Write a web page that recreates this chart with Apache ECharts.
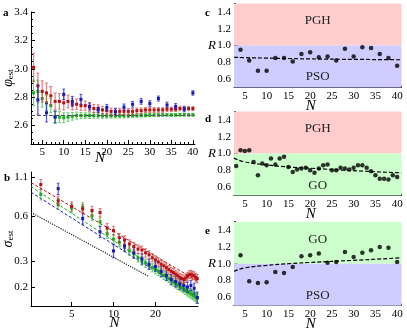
<!DOCTYPE html>
<html>
<head>
<meta charset="utf-8">
<script src="https://cdn.jsdelivr.net/npm/echarts@6/dist/echarts.min.js"></script>
<style>
html,body{margin:0;padding:0;background:#fff;}
#main{width:407px;height:333px;}
</style>
</head>
<body>
<div id="main"></div>
<script>
// ---- panel a : phase estimate vs N ----
var nAll = [3,4,5,6,7,8,9,10,11,12,13,14,15,16,17,18,19,20,21,22,23,24,25,26,27,28,29,30,31,32,33,34,35,36,37,38,39,40];
var nEven = [4,6,8,10,12,14,16,18,20,22,24,26,28,30,32,34,36,38,40];
var aRed = [3.01,2.88,2.84,2.83,2.81,2.77,2.77,2.76,2.77,2.75,2.75,2.74,2.74,2.73,2.72,2.72,2.71,2.705,2.70,2.70,2.70,2.70,2.70,2.70,2.705,2.705,2.71,2.71,2.71,2.71,2.71,2.715,2.715,2.715,2.72,2.72,2.72,2.72];
var aRedErr = [0.10,0.09,0.075,0.07,0.065,0.06,0.055,0.05,0.045,0.04,0.038,0.035,0.033,0.03,0.028,0.027,0.026,0.025,0.024,0.023,0.022,0.021,0.02,0.02,0.019,0.019,0.018,0.018,0.018,0.017,0.017,0.017,0.016,0.016,0.016,0.016,0.015,0.015];
var aGreen = [2.83,2.84,2.79,2.76,2.74,2.66,2.66,2.655,2.66,2.665,2.67,2.67,2.67,2.67,2.67,2.67,2.668,2.668,2.668,2.668,2.668,2.668,2.668,2.67,2.67,2.672,2.672,2.674,2.674,2.674,2.675,2.675,2.675,2.675,2.676,2.676,2.676,2.676];
var aGreenErr = [0.09,0.08,0.06,0.055,0.05,0.045,0.04,0.035,0.03,0.027,0.025,0.022,0.02,0.02,0.018,0.018,0.017,0.016,0.015,0.015,0.014,0.014,0.013,0.013,0.012,0.012,0.012,0.011,0.011,0.011,0.01,0.01,0.01,0.01,0.01,0.01,0.01,0.01];
var aBlue = [2.78,2.69,2.66,2.82,2.77,2.785,2.735,2.71,2.727,2.697,2.73,2.75,2.77,2.755,2.79,2.745,2.735,2.715,2.83];
var aBlueErr = [0.1,0.065,0.04,0.037,0.035,0.035,0.025,0.02,0.022,0.022,0.022,0.02,0.02,0.02,0.018,0.02,0.02,0.018,0.016];
var aRef = 2.667;
var aXTicks = [5,10,15,20,25,30,35,40];
var aYTicks = [2.6,2.8,3.0,3.2,3.4];

// ---- panel b : sigma vs N (log-log) ----
var bRed = [0.98,0.76,0.70,0.67,0.655,0.635,0.50,0.48,0.43,0.415,0.39,0.375,0.36,0.355,0.34,0.33,0.315,0.305,0.295,0.285,0.278,0.27,0.262,0.255,0.25,0.244,0.238,0.232,0.228,0.225,0.23,0.236,0.242,0.244,0.24,0.238,0.232,0.228];
var bRedErr = [0.08,0.06,0.05,0.05,0.045,0.04,0.035,0.033,0.03,0.028,0.026,0.025,0.024,0.023,0.022,0.021,0.02,0.02,0.019,0.018,0.018,0.017,0.017,0.016,0.016,0.016,0.015,0.015,0.015,0.015,0.015,0.015,0.015,0.015,0.015,0.015,0.015,0.015];
var bGreen = [0.84,0.72,0.68,0.69,0.60,0.55,0.455,0.42,0.40,0.37,0.35,0.335,0.315,0.30,0.29,0.28,0.27,0.262,0.255,0.248,0.24,0.235,0.228,0.222,0.216,0.21,0.206,0.202,0.198,0.194,0.19,0.186,0.183,0.18,0.177,0.174,0.171,0.168];
var bGreenErr = [0.07,0.055,0.05,0.05,0.04,0.035,0.03,0.03,0.028,0.025,0.024,0.022,0.021,0.02,0.019,0.018,0.017,0.017,0.016,0.016,0.015,0.015,0.014,0.014,0.014,0.013,0.013,0.013,0.013,0.012,0.012,0.012,0.012,0.012,0.012,0.012,0.012,0.012];
var bBlue = [0.92,0.58,0.47,0.35,0.38,0.34,0.31,0.285,0.275,0.255,0.24,0.225,0.218,0.21,0.205,0.2,0.205,0.196,0.17];
var bBlueErr = [0.08,0.05,0.04,0.035,0.03,0.028,0.025,0.022,0.02,0.02,0.019,0.018,0.018,0.017,0.017,0.016,0.016,0.016,0.015];
var bFitN = [2.55,40];
var bRedFit = [1.01,0.22];
var bGreenFit = [0.95,0.175];
var bBlueFit = [0.87,0.17];
var bDotN = [2.55,18];
var bDot = [0.636,0.235];
var bXTicks = [5,10,20];
var bYTicks = [0.2,0.3,0.6,1.1];

// ---- panels c, d, e : ratio R ----
var cR = [0.95,0.82,0.70,0.70,0.85,0.85,0.81,0.90,0.92,0.86,0.87,0.82,0.96,0.87,0.98,0.97,0.90,0.85,0.76];
var dR = [0.85,1.04,1.03,1.04,0.90,0.74,0.88,0.86,0.94,0.87,0.94,0.96,0.84,0.78,0.81,0.82,0.83,0.80,0.77,0.82,0.86,0.87,0.80,0.80,0.83,0.82,0.81,0.83,0.86,0.86,0.83,0.79,0.74,0.70,0.70,0.69,0.74,0.72];
var eR = [1.10,0.79,0.77,0.78,0.90,0.89,0.96,1.09,1.10,1.12,1.01,1.02,1.14,1.08,1.13,1.16,1.20,1.19,1.02];
var fitN = [2.5,5,10,15,20,30,41];
var cFit = [0.86,0.855,0.85,0.845,0.84,0.835,0.83];
var dFit = [0.945,0.90,0.865,0.84,0.825,0.795,0.77];
var eFit = [0.91,0.95,0.98,1.0,1.015,1.04,1.07];
var rXTicks = [5,10,15,20,25,30,35,40];
var rYTicks = [0.6,0.8,1.0,1.2,1.4];

var font = 'Liberation Serif';
var RED = '#b81010', GREEN = '#22a822', BLUE = '#1818b8';
var PINK = '#ffcdcd', LBLUE = '#cdcdff', LGREEN = '#cdffcd';

window.onload = function(){
	initChart();
};

function mainAxis(grid, pos, min, max, labels, fmt){
	return {
		type: 'value', gridIndex: grid, position: pos, min: min, max: max,
		nameMoveOverlap: false,
		axisLine: {show: true, onZero: false, lineStyle: {color: '#000', width: 1}},
		axisTick: {show: true, inside: true, length: 4, customValues: labels, lineStyle: {color: '#000'}},
		axisLabel: {show: true, customValues: labels, formatter: fmt, fontFamily: font, fontSize: 11, color: '#000', margin: 3},
		splitLine: {show: false}
	};
}
function minorAxis(grid, pos, min, max, ticks){
	return {
		type: 'value', gridIndex: grid, position: pos, min: min, max: max,
		axisLine: {show: false, onZero: false},
		axisTick: {show: true, inside: true, length: 2, customValues: ticks, lineStyle: {color: '#000'}},
		axisLabel: {show: false},
		splitLine: {show: false}
	};
}
function steps(from, to, step){
	var out = [];
	for(var v = from; v <= to + 1e-9; v += step){ out.push(Math.round(v*1000)/1000); }
	return out;
}

// error bar with small square marker
function errItem(mark, bar){
	return function(params, api){
		var p = api.coord([api.value(0), api.value(1)]);
		var lo = api.coord([api.value(0), api.value(2)]);
		var hi = api.coord([api.value(0), api.value(3)]);
		var c = 1.5;
		return {type: 'group', children: [
			{type: 'line', shape: {x1: p[0], y1: lo[1], x2: p[0], y2: hi[1]}, style: {stroke: bar, lineWidth: 1.3}},
			{type: 'line', shape: {x1: p[0]-c, y1: lo[1], x2: p[0]+c, y2: lo[1]}, style: {stroke: bar, lineWidth: 1}},
			{type: 'line', shape: {x1: p[0]-c, y1: hi[1], x2: p[0]+c, y2: hi[1]}, style: {stroke: bar, lineWidth: 1}},
			{type: 'rect', shape: {x: p[0]-1.5, y: p[1]-1.5, width: 3, height: 3}, style: {fill: mark}}
		]};
	};
}
function errData(ns, vals, errs, logScale){
	var out = [];
	for(var i=0;i<ns.length;i++){
		if(logScale){
			out.push([Math.log(ns[i]), Math.log(vals[i]), Math.log(vals[i]-errs[i]), Math.log(vals[i]+errs[i])]);
		}else{
			out.push([ns[i], vals[i], vals[i]-errs[i], vals[i]+errs[i]]);
		}
	}
	return out;
}
function pairs(xs, ys){
	var out = [];
	for(var i=0;i<xs.length;i++){ out.push([xs[i], ys[i]]); }
	return out;
}
function logPairs(xs, ys){
	var out = [];
	for(var i=0;i<xs.length;i++){ out.push([Math.log(xs[i]), Math.log(ys[i])]); }
	return out;
}
function lnList(list){
	var out = [];
	for(var i=0;i<list.length;i++){ out.push(Math.log(list[i])); }
	return out;
}
function band(lo, hi, color, name, pos, dist){
	return [
		{yAxis: lo, name: name, itemStyle: {color: color},
		 label: {show: true, position: pos, distance: dist, formatter: '{b}', fontFamily: font, fontSize: 13, color: '#222'}},
		{yAxis: hi}
	];
}

function initChart(){
	var myChart = echarts.init(document.getElementById('main'), null, {renderer: 'canvas'});
	var xAxes = [], yAxes = [];
	var nameN = function(gap, pad){
		return {name: 'N', nameLocation: 'middle', nameGap: gap,
			nameTextStyle: {fontFamily: font, fontStyle: 'italic', fontSize: 15, color: '#000', padding: pad}};
	};

	// panel a axes (index 0)
	xAxes.push(Object.assign(mainAxis(0, 'bottom', 2.4, 40.5, aXTicks), nameN(7, [0,26,0,0])));
	yAxes.push(Object.assign(mainAxis(0, 'left', 2.47, 3.4, aYTicks, function(v){ return v.toFixed(1); }), {
		name: '{v|φ}{s|est}', nameLocation: 'middle', nameRotate: 90, nameGap: 16,
		nameTextStyle: {rich: {
			v: {fontFamily: font, fontStyle: 'italic', fontSize: 14, color: '#000'},
			s: {fontFamily: font, fontSize: 9, color: '#000', padding: [5,0,0,0]}
		}}
	}));
	// panel b axes (index 1), log scale handled through ln values
	var bx = lnList(bXTicks), by = lnList(bYTicks);
	xAxes.push(Object.assign(mainAxis(1, 'bottom', Math.log(2.55), Math.log(40.5), bx, function(v){ return Math.round(Math.exp(v)); }), nameN(10, [0,0,0,0])));
	yAxes.push(Object.assign(mainAxis(1, 'left', Math.log(0.149), Math.log(1.19), by, function(v){ return (Math.round(Math.exp(v)*10)/10).toFixed(1); }), {
		name: '{v|σ}{s|est}', nameLocation: 'middle', nameRotate: 90, nameGap: 16,
		nameTextStyle: {rich: {
			v: {fontFamily: font, fontStyle: 'italic', fontSize: 14, color: '#000'},
			s: {fontFamily: font, fontSize: 9, color: '#000', padding: [5,0,0,0]}
		}}
	}));
	// panels c,d,e axes (index 2,3,4)
	for(var g=2; g<=4; g++){
		xAxes.push(Object.assign(mainAxis(g, 'bottom', 2.5, 41, rXTicks), nameN(11, [0,14,0,0])));
		yAxes.push(Object.assign(mainAxis(g, 'left', 0.5, 1.5, rYTicks, function(v){ return v.toFixed(1); }), {
			name: 'R', nameLocation: 'middle', nameRotate: 0, nameGap: 18,
			nameTextStyle: {fontFamily: font, fontStyle: 'italic', fontSize: 13, color: '#000'}
		}));
	}
	// minor ticks
	xAxes.push(minorAxis(0, 'bottom', 2.4, 40.5, steps(3, 40, 1)));
	yAxes.push(minorAxis(0, 'left', 2.47, 3.4, steps(2.5, 3.4, 0.05)));
	for(var h=2; h<=4; h++){
		xAxes.push(minorAxis(h, 'bottom', 2.5, 41, steps(3, 41, 1)));
		yAxes.push(minorAxis(h, 'left', 0.5, 1.5, steps(0.5, 1.5, 0.05)));
	}

	var series = [
		// panel a
		{type: 'custom', xAxisIndex: 0, yAxisIndex: 0, renderItem: errItem(GREEN, 'rgba(40,180,40,0.6)'), data: errData(nAll, aGreen, aGreenErr), z: 3,
		 markLine: {silent: true, symbol: 'none', label: {show: false}, lineStyle: {color: '#555', type: 'dashed', width: 1}, data: [{yAxis: aRef}]}},
		{type: 'custom', xAxisIndex: 0, yAxisIndex: 0, renderItem: errItem(RED, 'rgba(200,40,40,0.55)'), data: errData(nAll, aRed, aRedErr), z: 4},
		{type: 'custom', xAxisIndex: 0, yAxisIndex: 0, renderItem: errItem(BLUE, 'rgba(30,30,200,0.7)'), data: errData(nEven, aBlue, aBlueErr), z: 5},
		// panel b
		{type: 'line', xAxisIndex: 1, yAxisIndex: 1, data: logPairs(bDotN, bDot), symbol: 'none', lineStyle: {color: '#222', type: 'dotted', width: 1.2}, z: 2},
		{type: 'line', xAxisIndex: 1, yAxisIndex: 1, data: logPairs(bFitN, bRedFit), symbol: 'none', lineStyle: {color: RED, type: [3,2], width: 1}, z: 2},
		{type: 'line', xAxisIndex: 1, yAxisIndex: 1, data: logPairs(bFitN, bGreenFit), symbol: 'none', lineStyle: {color: GREEN, type: [3,2], width: 1}, z: 2},
		{type: 'line', xAxisIndex: 1, yAxisIndex: 1, data: logPairs(bFitN, bBlueFit), symbol: 'none', lineStyle: {color: BLUE, type: [3,2], width: 1}, z: 2},
		{type: 'custom', xAxisIndex: 1, yAxisIndex: 1, renderItem: errItem(GREEN, 'rgba(40,180,40,0.6)'), data: errData(nAll, bGreen, bGreenErr, true), z: 3},
		{type: 'custom', xAxisIndex: 1, yAxisIndex: 1, renderItem: errItem(BLUE, 'rgba(30,30,200,0.7)'), data: errData(nEven, bBlue, bBlueErr, true), z: 4},
		{type: 'custom', xAxisIndex: 1, yAxisIndex: 1, renderItem: errItem(RED, 'rgba(200,40,40,0.55)'), data: errData(nAll, bRed, bRedErr, true), z: 5}
	];
	var rSets = [
		{data: pairs(nEven, cR), fit: cFit, bands: [band(1.0, 1.5, PINK, 'PGH', 'insideTop', 11), band(0.5, 1.0, LBLUE, 'PSO', 'insideBottom', 4)]},
		{data: pairs(nAll, dR), fit: dFit, bands: [band(1.0, 1.5, PINK, 'PGH', 'insideTop', 11), band(0.5, 1.0, LGREEN, 'GO', 'insideBottom', 3)]},
		{data: pairs(nEven, eR), fit: eFit, bands: [band(1.0, 1.5, LGREEN, 'GO', 'insideTop', 11), band(0.5, 1.0, LBLUE, 'PSO', 'insideBottom', 4)]}
	];
	for(var k=0;k<rSets.length;k++){
		series.push({type: 'scatter', xAxisIndex: k+2, yAxisIndex: k+2, data: rSets[k].data, symbol: 'circle', symbolSize: 4.5,
			itemStyle: {color: '#000'}, z: 4,
			markArea: {silent: true, data: rSets[k].bands}});
		series.push({type: 'line', xAxisIndex: k+2, yAxisIndex: k+2, data: pairs(fitN, rSets[k].fit), smooth: true, symbol: 'none',
			lineStyle: {color: '#000', type: [4,2], width: 1.2}, z: 3});
	}

	var lbl = function(t, left, top){
		return {text: t, left: left, top: top, padding: 0,
			textStyle: {fontFamily: font, fontWeight: 'bold', fontSize: 11, color: '#000'}};
	};
	var option = {
		animation: false,
		backgroundColor: '#fff',
		title: [lbl('a', 3, 8), lbl('b', 4, 173), lbl('c', 205, 8), lbl('d', 205, 114), lbl('e', 205, 226)],
		grid: [
			{left: 29, top: 12, width: 166, height: 132},
			{left: 29, top: 172, width: 169, height: 134},
			{left: 234, top: 3.5, width: 167.5, height: 84},
			{left: 234, top: 111.5, width: 167.5, height: 84},
			{left: 234, top: 221.7, width: 167.5, height: 84}
		],
		xAxis: xAxes,
		yAxis: yAxes,
		series: series
	};
	myChart.setOption(option);
}
</script>
</body>
</html>
